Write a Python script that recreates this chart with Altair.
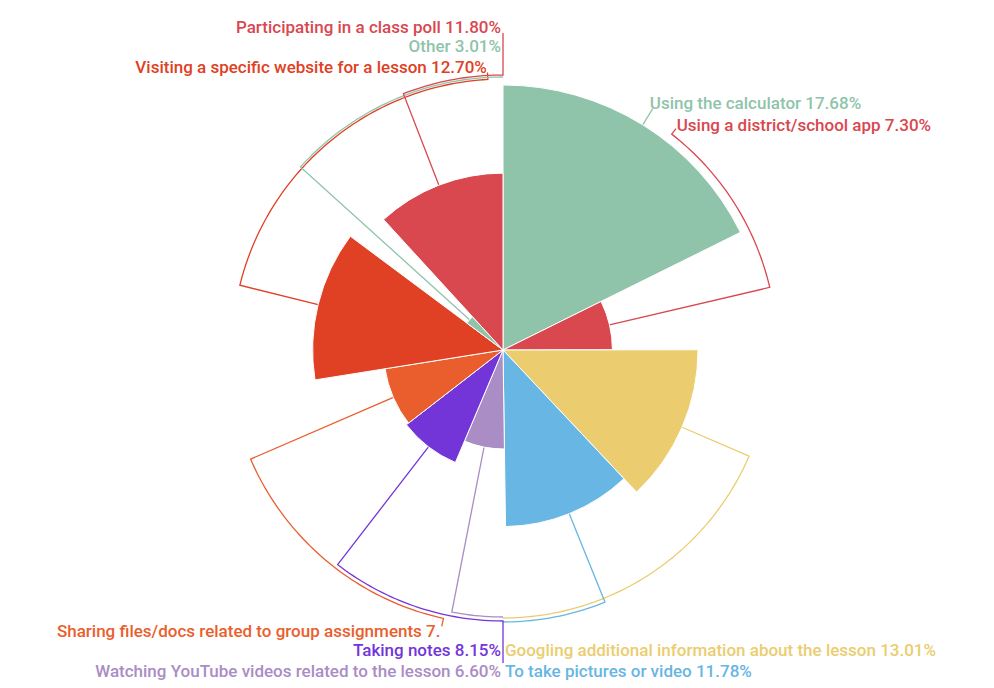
import math
import altair as alt
import pandas as pd

# ---- data ----
labels = [
    "Using the calculator",
    "Using a district/school app",
    "Googling additional information about the lesson",
    "To take pictures or video",
    "Watching YouTube videos related to the lesson",
    "Taking notes",
    "Sharing files/docs related to group assignments",
    "Visiting a specific website for a lesson",
    "Other",
    "Participating in a class poll",
]
values = [17.68, 7.30, 13.01, 11.78, 6.60, 8.15, 7.97, 12.70, 3.01, 11.80]
label_texts = [
    "Using the calculator 17.68%",
    "Using a district/school app 7.30%",
    "Googling additional information about the lesson 13.01%",
    "To take pictures or video 11.78%",
    "Watching YouTube videos related to the lesson 6.60%",
    "Taking notes 8.15%",
    "Sharing files/docs related to group assignments 7.",
    "Visiting a specific website for a lesson 12.70%",
    "Other 3.01%",
    "Participating in a class poll 11.80%",
]
colors = ["#8fc4aa", "#d9474f", "#ebcd70", "#67b6e3", "#a98dc4",
          "#7435d8", "#ea5e2d", "#e04023", "#8fc4aa", "#d9474f"]

# ---- layout (style, not data) ----
W, H = 978, 676
CX, CY = 495, 342
RMAX = 265
# per slice: arc radius, arc end angle (deg), tail radius, label dx, dy, align
leader = [
    (284, None, 284, -3, -5, "left"),
    (274, 38.0, 281, 5, -8, "left"),
    (268, 180.0, 268, 2, 33, "left"),
    (272, 180.0, 272, 2, 50, "left"),
    (267, 180.0, 267, -2, 55, "right"),
    (271, 180.0, 313, -2, 30, "right"),
    (275, 192.5, 283, -3, 14, "right"),
    (271, 356.8, 278, -1, -11, "right"),
    (273, 360.0, 273, -2, -30, "right"),
    (275, 360.0, 317, -2, -47, "right"),
]

total = sum(values)
vmax = max(values)


def pt(a_deg, r):
    a = math.radians(a_deg)
    return CX + r * math.sin(a), CY - r * math.cos(a)


slices = pd.DataFrame({"label": labels, "value": values, "idx": list(range(len(labels)))})

line_rows = []
text_rows = []
cum = 0.0
for i, (lab, v) in enumerate(zip(labels, values)):
    a0 = cum / total * 360
    cum += v
    a1 = cum / total * 360
    mid = (a0 + a1) / 2
    rf = v / vmax * RMAX
    R, a_end, tail_r, dx, dy, align = leader[i]
    if a_end is None:
        a_end = mid
    pts = [pt(mid, rf), pt(mid, R)]
    n = max(2, int(abs(a_end - mid)))
    for k in range(1, n + 1):
        pts.append(pt(mid + (a_end - mid) * k / n, R))
    pts.append(pt(a_end, tail_r))
    for k, (x, y) in enumerate(pts):
        line_rows.append({"label": lab, "k": k, "px": x, "py": y})
    ex, ey = pt(a_end, R)
    text_rows.append({"label": lab, "text": label_texts[i], "px": ex + dx, "py": ey + dy, "align": align})

lines = pd.DataFrame(line_rows)
texts = pd.DataFrame(text_rows)

color_scale = alt.Scale(domain=labels, range=colors)

arcs = alt.Chart(slices).mark_arc(stroke="white", strokeWidth=1).encode(
    theta=alt.Theta("value:Q", stack=True),
    radius=alt.Radius("value:Q", scale=alt.Scale(type="linear", zero=True, domain=[0, vmax], range=[0, RMAX])),
    color=alt.Color("label:N", scale=color_scale, legend=None),
    order=alt.Order("idx:Q"),
    x=alt.value(CX),
    y=alt.value(CY),
)

leader_lines = alt.Chart(lines).mark_line(strokeWidth=1.3).encode(
    x=alt.X("px:Q", scale=None, axis=None),
    y=alt.Y("py:Q", scale=None, axis=None),
    detail="label:N",
    order=alt.Order("k:Q"),
    color=alt.Color("label:N", scale=color_scale, legend=None),
)

txt_left = alt.Chart(texts[texts["align"] == "left"]).mark_text(
    align="left", baseline="middle", font="Roboto", fontSize=17, fontWeight=500
).encode(
    x=alt.X("px:Q", scale=None, axis=None),
    y=alt.Y("py:Q", scale=None, axis=None),
    text="text:N",
    color=alt.Color("label:N", scale=color_scale, legend=None),
)

txt_right = alt.Chart(texts[texts["align"] == "right"]).mark_text(
    align="right", baseline="middle", font="Roboto", fontSize=17, fontWeight=500
).encode(
    x=alt.X("px:Q", scale=None, axis=None),
    y=alt.Y("py:Q", scale=None, axis=None),
    text="text:N",
    color=alt.Color("label:N", scale=color_scale, legend=None),
)

chart = alt.layer(leader_lines, arcs, txt_left, txt_right).properties(
    width=W, height=H, autosize="none", padding=0
).configure_view(stroke=None)

chart.save("out.html", embed_options={"renderer": "svg", "actions": False})
